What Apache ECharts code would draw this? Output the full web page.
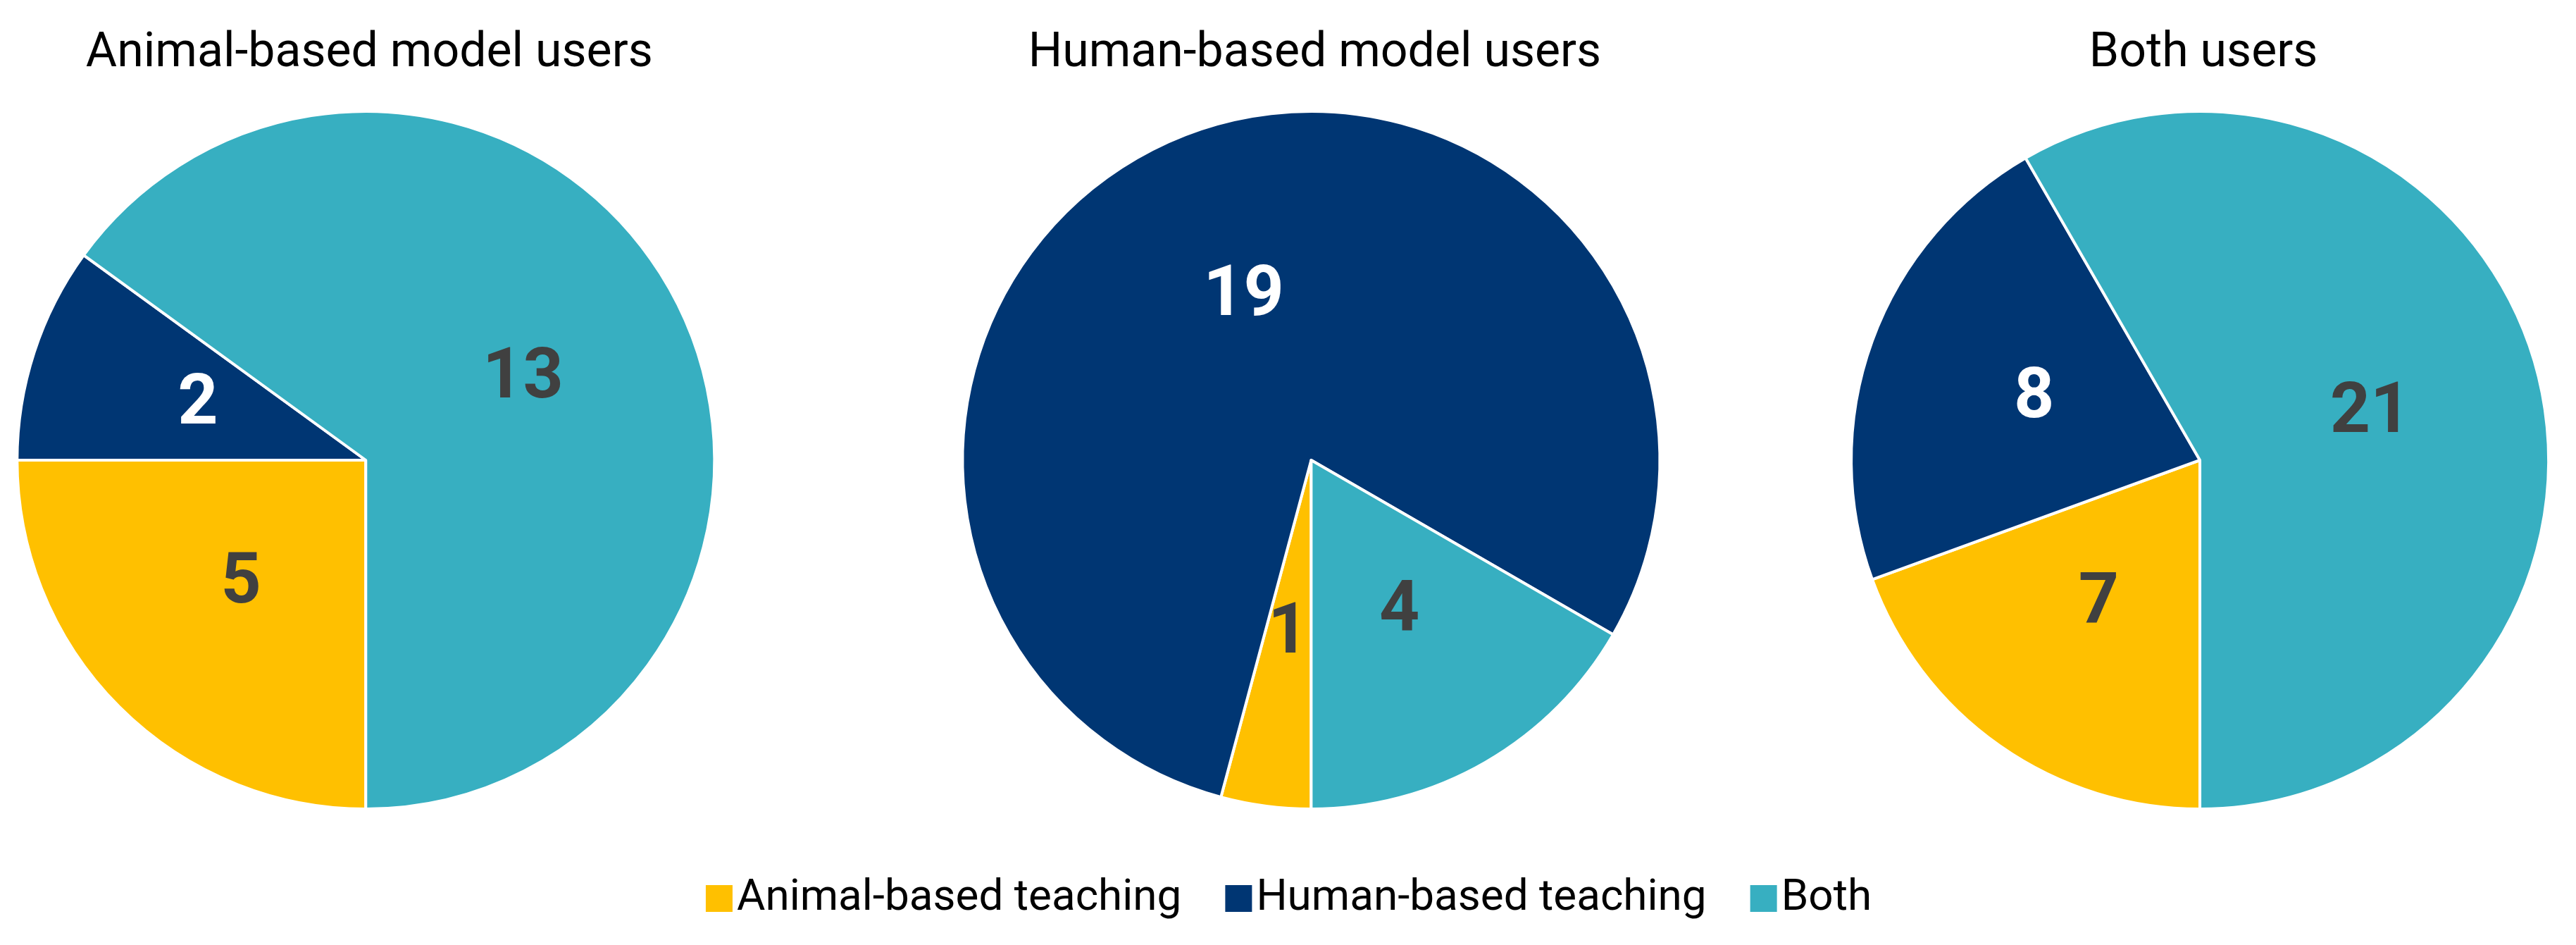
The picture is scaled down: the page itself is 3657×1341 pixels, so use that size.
<!DOCTYPE html>
<html><head><meta charset="utf-8">
<script src="https://cdn.jsdelivr.net/npm/echarts@6/dist/echarts.min.js"></script>
<style>html,body{margin:0;background:#fff}#chart{width:3657px;height:1341px}</style>
</head><body><div id="chart"></div>
<script>
var categories = ['Animal-based teaching', 'Human-based teaching', 'Both'];
var panelTitles = ['Animal-based model users', 'Human-based model users', 'Both users'];
var animalUsers = [5, 2, 13];
var humanUsers = [1, 19, 4];
var bothUsers = [7, 8, 21];
var colors = ['#FFC000', '#003673', '#37AFC1'];
var labelColors = ['#404040', '#ffffff', '#404040'];

var panels = [animalUsers, humanUsers, bothUsers];
var centersX = ['14.2%', '50.9%', '85.4%'];

var myChart = echarts.init(document.getElementById('chart'));
var option = {
    color: colors,
    textStyle: { fontFamily: 'Roboto' },
    title: panelTitles.map(function (t, i) {
        return {
            text: t, left: centersX[i], top: 38, textAlign: 'center',
            textStyle: { fontSize: 68, fontWeight: 'normal', color: '#000', fontFamily: 'Roboto' }
        };
    }),
    legend: {
        data: categories, bottom: 30, left: 'center',
        itemWidth: 40, itemHeight: 40, itemGap: 60, icon: 'rect',
        textStyle: { fontSize: 62, color: '#000', fontFamily: 'Roboto' }
    },
    series: panels.map(function (vals, i) {
        return {
            type: 'pie',
            center: [centersX[i], 653],
            radius: [0, 495],
            startAngle: -90,
            clockwise: true,
            avoidLabelOverlap: false,
            itemStyle: { borderColor: '#fff', borderWidth: 4 },
            label: {
                position: 'inside', fontSize: 100, fontWeight: 'bold', fontFamily: 'Roboto',
                formatter: '{c}'
            },
            labelLine: { show: false },
            data: vals.map(function (v, j) {
                return { name: categories[j], value: v, label: { color: labelColors[j] } };
            })
        };
    })
};
myChart.setOption(option, true);
</script></body></html>
